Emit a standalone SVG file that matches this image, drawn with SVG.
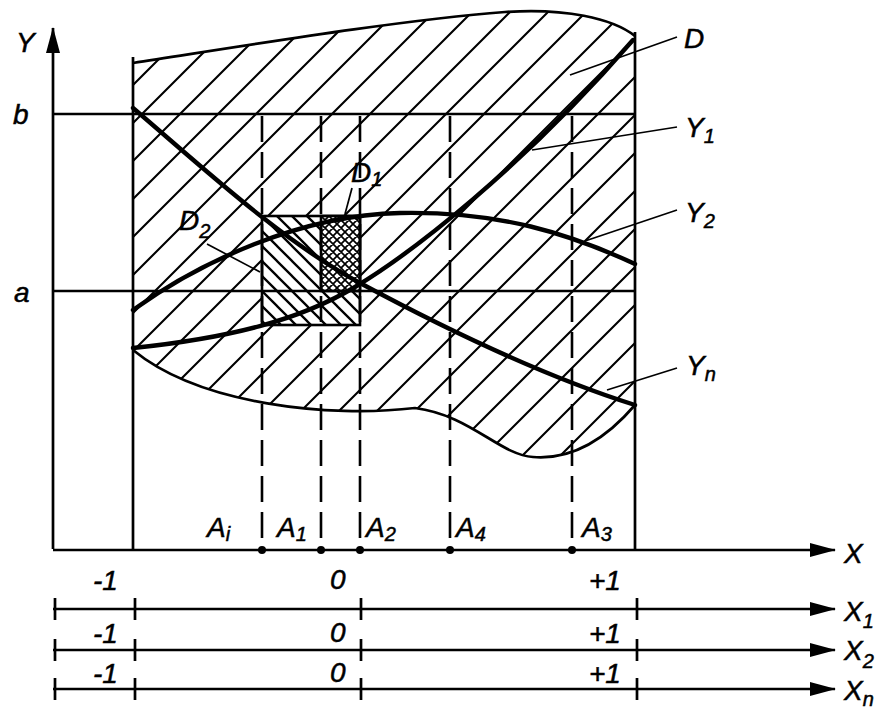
<svg xmlns="http://www.w3.org/2000/svg" width="889" height="709" viewBox="0 0 889 709">
<style>
.ln{fill:none;stroke:#000;stroke-width:2.7}
.thin{fill:none;stroke:#000;stroke-width:1.7}
.curve{fill:none;stroke:#000;stroke-width:4.4;stroke-linecap:round}
.dash{fill:none;stroke:#000;stroke-width:2.6;stroke-dasharray:26 10}
.t{font-family:"Liberation Sans",Arial,sans-serif;font-style:italic;font-size:28px;fill:#000;stroke:#000;stroke-width:0.5}
.s{font-size:20px}
</style>
<defs>
<pattern id="hatch" patternUnits="userSpaceOnUse" x="28" y="0" width="38" height="38">
<path d="M0,38 L38,0 M-4,4 L4,-4 M34,42 L42,34" stroke="#000" stroke-width="2.1"/>
</pattern>
<pattern id="hatch2" patternUnits="userSpaceOnUse" x="262" y="216" width="15" height="15">
<path d="M0,0 L15,15 M-3,12 L3,18 M12,-3 L18,3" stroke="#000" stroke-width="2.3"/>
</pattern>
<pattern id="hatch3" patternUnits="userSpaceOnUse" x="321" y="216" width="8" height="8">
<path d="M0,0 L8,8 M-2,6 L2,10 M6,-2 L10,2 M0,8 L8,0 M-2,2 L2,-2 M6,10 L10,6" stroke="#000" stroke-width="1.7"/>
</pattern>
<marker id="arr" markerUnits="userSpaceOnUse" markerWidth="27" markerHeight="16" refX="25" refY="8" orient="auto">
<path d="M0,1 L26,8 L0,15 z" fill="#000"/>
</marker>
</defs>
<rect width="889" height="709" fill="#fff"/>

<g id="regionD">
<path d="M133,63 C250,45 400,20 505,12 C565,8 612,18 635,36 L635,405 C605,440 570,460 533,457 C500,455 470,415 415,408 C330,418 200,405 133,350 Z" fill="url(#hatch)" stroke="none"/>
<path d="M133,63 C250,45 400,20 505,12 C565,8 612,18 635,36" class="ln"/>
<path d="M635,405 C605,440 570,460 533,457 C500,455 470,415 415,408 C330,418 200,405 133,350" class="ln"/>
</g>

<g id="regionD2">
<rect x="262" y="216" width="98" height="109" fill="#fff"/>
<rect x="262" y="216" width="98" height="109" fill="url(#hatch2)" stroke="#000" stroke-width="2.6"/>
</g>
<g id="regionD1">
<rect x="321" y="216" width="39" height="75" fill="#fff"/>
<rect x="321" y="216" width="39" height="75" fill="url(#hatch3)" stroke="#000" stroke-width="2.6"/>
</g>

<g id="axes">
<line x1="53" y1="549" x2="53" y2="28" class="ln" marker-end="url(#arr)"/>
<line x1="53" y1="550" x2="835" y2="550" class="ln" marker-end="url(#arr)"/>
<line x1="133" y1="57" x2="133" y2="550" class="ln"/>
<line x1="635" y1="32" x2="635" y2="550" class="ln"/>
<line x1="53" y1="114" x2="635" y2="114" class="ln"/>
<line x1="53" y1="291" x2="635" y2="291" class="ln"/>
</g>

<g id="dashed">
<line x1="262" y1="116" x2="262" y2="549" class="dash"/>
<line x1="321" y1="116" x2="321" y2="549" class="dash"/>
<line x1="360" y1="116" x2="360" y2="549" class="dash"/>
<line x1="450" y1="116" x2="450" y2="549" class="dash"/>
<line x1="572" y1="116" x2="572" y2="549" class="dash"/>
<circle cx="262" cy="550" r="4"/>
<circle cx="321" cy="550" r="4"/>
<circle cx="360" cy="550" r="4"/>
<circle cx="450" cy="550" r="4"/>
<circle cx="572" cy="550" r="4"/>
</g>

<g id="curves">
<path id="Y1" d="M133,348 C230,338 300,320 355,287 S520,170 633,40" class="curve"/>
<path id="Y2" d="M133,310 C200,262 300,215 400,213 S570,234 635,264" class="curve"/>
<path id="Yn" d="M133,108 C200,165 280,240 360,283 S540,375 635,405" class="curve"/>
</g>

<g id="connectors">
<line x1="570" y1="75" x2="677" y2="37" class="thin"/>
<line x1="532" y1="150" x2="677" y2="127" class="thin"/>
<line x1="585" y1="241" x2="677" y2="210" class="thin"/>
<line x1="607" y1="390" x2="677" y2="368" class="thin"/>
<line x1="352" y1="188" x2="345" y2="214" class="thin"/>
<line x1="207" y1="244" x2="260" y2="272" class="thin"/>
</g>

<g id="scales">
<line x1="53" y1="609" x2="835" y2="609" class="ln" marker-end="url(#arr)"/>
<line x1="53" y1="650" x2="835" y2="650" class="ln" marker-end="url(#arr)"/>
<line x1="53" y1="689" x2="835" y2="689" class="ln" marker-end="url(#arr)"/>
<path d="M55,598 V620 M135,598 V620 M361,598 V620 M637,598 V620 M55,639 V661 M135,639 V661 M361,639 V661 M637,639 V661 M55,678 V700 M135,678 V700 M361,678 V700 M637,678 V700" class="ln"/>
</g>

<g id="labels">
<text class="t" x="16" y="52">Y</text>
<text class="t" x="13" y="124">b</text>
<text class="t" x="14" y="302">a</text>
<text class="t" x="684" y="48">D</text>
<text class="t" x="685" y="137">Y<tspan class="s" dy="6">1</tspan></text>
<text class="t" x="685" y="222">Y<tspan class="s" dy="6">2</tspan></text>
<text class="t" x="686" y="375">Y<tspan class="s" dy="6">n</tspan></text>
<text class="t" x="351" y="182">D<tspan class="s" dy="4">1</tspan></text>
<text class="t" x="179" y="230">D<tspan class="s" dy="8">2</tspan></text>
<text class="t" x="207" y="537">A<tspan class="s" dy="4">i</tspan></text>
<text class="t" x="277" y="537">A<tspan class="s" dy="4">1</tspan></text>
<text class="t" x="366" y="537">A<tspan class="s" dy="4">2</tspan></text>
<text class="t" x="456" y="537">A<tspan class="s" dy="4">4</tspan></text>
<text class="t" x="582" y="537">A<tspan class="s" dy="4">3</tspan></text>
<text class="t" x="844" y="563">X</text>
<text class="t" x="844" y="621">X<tspan class="s" dy="7">1</tspan></text>
<text class="t" x="844" y="660">X<tspan class="s" dy="8">2</tspan></text>
<text class="t" x="844" y="700">X<tspan class="s" dy="6">n</tspan></text>
<text class="t" x="93" y="590">-1</text>
<text class="t" x="330" y="589">0</text>
<text class="t" x="589" y="590">+1</text>
<text class="t" x="93" y="643">-1</text>
<text class="t" x="330" y="642">0</text>
<text class="t" x="589" y="643">+1</text>
<text class="t" x="93" y="683">-1</text>
<text class="t" x="330" y="682">0</text>
<text class="t" x="589" y="683">+1</text>
</g>
</svg>
